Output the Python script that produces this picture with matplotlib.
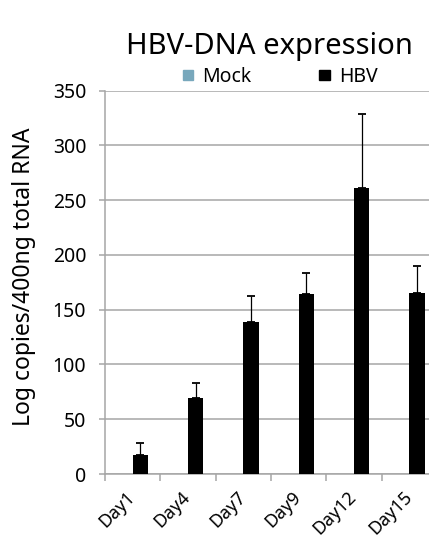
import numpy as np
import matplotlib
matplotlib.use('Agg')
import matplotlib.pyplot as plt
import matplotlib.transforms as mtransforms
from matplotlib.patches import Patch

plt.rcParams['font.family'] = ['Noto Sans', 'DejaVu Sans']

days = ['Day1', 'Day4', 'Day7', 'Day9', 'Day12', 'Day15']
mock = [0, 0, 0, 0, 0, 0]
hbv = [17, 69, 139, 164, 261, 165]
hbv_err = [11, 14, 23, 19, 68, 25]

mock_color = '#78a8bc'
grid_color = '#a6a6a6'

fig = plt.figure(figsize=(4.29, 5.42), dpi=100)
# axes runs off the right edge, like the cropped original
ax = fig.add_axes([105 / 429, 68 / 542, 332 / 429, 383.5 / 542])

x = np.arange(len(days))
w = 0.278
ax.bar(x - w / 2, mock, w, color=mock_color, zorder=3)
ax.bar(x + w / 2, hbv, w, color='black', zorder=3)
ax.errorbar(x + w / 2, hbv, yerr=[np.zeros(len(hbv)), hbv_err], fmt='none',
            ecolor='black', elinewidth=0.9, capsize=3, capthick=1.3, zorder=4)

ax.set_xlim(-0.5, len(days) - 0.5)
ax.set_ylim(0, 350)
ax.set_yticks(np.arange(0, 351, 50))
ax.yaxis.grid(True, color=grid_color, linewidth=1.1, zorder=0)
ax.set_axisbelow(True)

for s in ['top', 'right']:
    ax.spines[s].set_visible(False)
for s in ['left', 'bottom']:
    ax.spines[s].set_color(grid_color)
    ax.spines[s].set_linewidth(1.1)

# ticks between categories, labels at centres
ax.set_xticks(np.arange(-0.5, len(days), 1.0))
ax.set_xticklabels([])
ax.set_xticks(x, minor=True)
ax.set_xticklabels(days, minor=True, rotation=45, ha='right', va='top', fontsize=13)
ax.tick_params(axis='x', which='major', direction='out', length=5, width=1.1, color=grid_color)
ax.tick_params(axis='x', which='minor', length=0, pad=10)
ax.tick_params(axis='y', direction='out', length=4.5, width=1.1, color=grid_color,
               labelsize=14, pad=9)
shift = mtransforms.ScaledTranslation(6 / 100, 0, fig.dpi_scale_trans)
for lab in ax.get_xticklabels(minor=True):
    lab.set_transform(lab.get_transform() + shift)

fig.text(269 / 429, 1 - 54 / 542, 'HBV-DNA expression', ha='center', va='baseline',
         fontsize=21)
fig.text(12 / 429, 1 - 277 / 542, 'Log copies/400ng total RNA', rotation=90,
         ha='left', va='center', fontsize=16.5)

handles = [Patch(color=mock_color), Patch(color='black')]
fig.legend(handles, ['Mock', 'HBV'], ncol=2, frameon=False, fontsize=14,
           loc='center', bbox_to_anchor=(280 / 429, 1 - 77 / 542),
           handlelength=0.55, handleheight=0.45, handletextpad=0.45,
           columnspacing=3.5, borderpad=0, borderaxespad=0)

fig.savefig('out.png', dpi=100)
